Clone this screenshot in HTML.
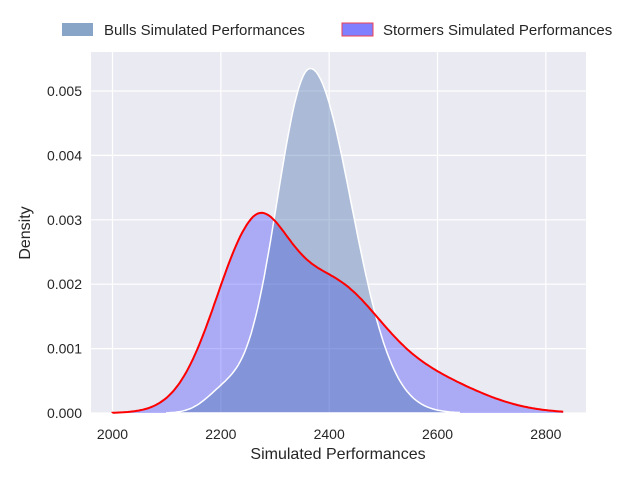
<!DOCTYPE html>
<html><head><meta charset="utf-8"><style>
body{margin:0;background:#fff;}
svg text{font-family:"Liberation Sans",sans-serif;fill:#262626;}
</style></head><body>
<svg id="s" width="640" height="480" xmlns="http://www.w3.org/2000/svg">
<rect x="91" y="52" width="495" height="361" fill="#eaeaf2"/>
<g id="grid" stroke="#fff" stroke-width="1.2"></g>
<path id="storm" fill="rgba(0,0,255,0.27)" stroke="none"/>
<path id="bulls" fill="rgba(76,114,176,0.4)" stroke="#fff" stroke-width="1.5"/>
<path id="stormline" fill="none" stroke="#f00" stroke-width="2"/>
<g id="labels" font-size="14"></g>
<text x="338" y="459" font-size="16" text-anchor="middle">Simulated Performances</text>
<text transform="translate(30,233) rotate(-90)" font-size="16" text-anchor="middle">Density</text>
<rect x="62" y="23" width="31" height="13" fill="#88a5c8"/>
<text x="104" y="35" font-size="15">Bulls Simulated Performances</text>
<rect x="342" y="23" width="31" height="13" fill="#7f7fff" stroke="#f04050" stroke-width="1"/>
<text x="383" y="35" font-size="15">Stormers Simulated Performances</text>
</svg>
<script>
var X=function(v){return 112.5+(v-2000)*0.5417;},Y=function(d){return 413-d*64400;};
function g(x,m,sl,sr){var s=x<m?sl:sr;return Math.exp(-Math.pow((x-m)/s,2)/2);}
function bulls(x){return 0.00535*g(x,2365,62,76)+0.00028*g(x,2205,35,35);}
function storm(x){return 0.00249*g(x,2257,72,62)+0.00188*g(x,2400,90,90)+0.0005*g(x,2580,100,100);}
function path(f,a,b){var p="M"+X(a)+","+Y(0);for(var v=a;v<=b;v+=4){p+=" L"+X(v).toFixed(1)+","+Y(f(v)).toFixed(1);}return p;}
var sp=path(storm,2000,2832);
document.getElementById("storm").setAttribute("d",sp+" L"+X(2832)+","+Y(0)+"Z");
document.getElementById("stormline").setAttribute("d",sp);
document.getElementById("bulls").setAttribute("d",path(bulls,2100,2640)+" L"+X(2640)+","+Y(0)+"Z");
var gr=document.getElementById("grid"),lb=document.getElementById("labels"),h="",t="";
for(var v=2000;v<=2800;v+=200){var x=X(v);h+='<line x1="'+x+'" y1="52" x2="'+x+'" y2="413"/>';t+='<text x="'+x+'" y="439" text-anchor="middle">'+v+'</text>';}
for(var i=0;i<=5;i++){var y=Y(i*0.001);h+='<line x1="91" y1="'+y+'" x2="586" y2="'+y+'"/>';t+='<text x="82" y="'+(y+5)+'" text-anchor="end">'+(i*0.001).toFixed(3)+'</text>';}
gr.innerHTML=h;lb.innerHTML=t;
</script>
</body></html>
